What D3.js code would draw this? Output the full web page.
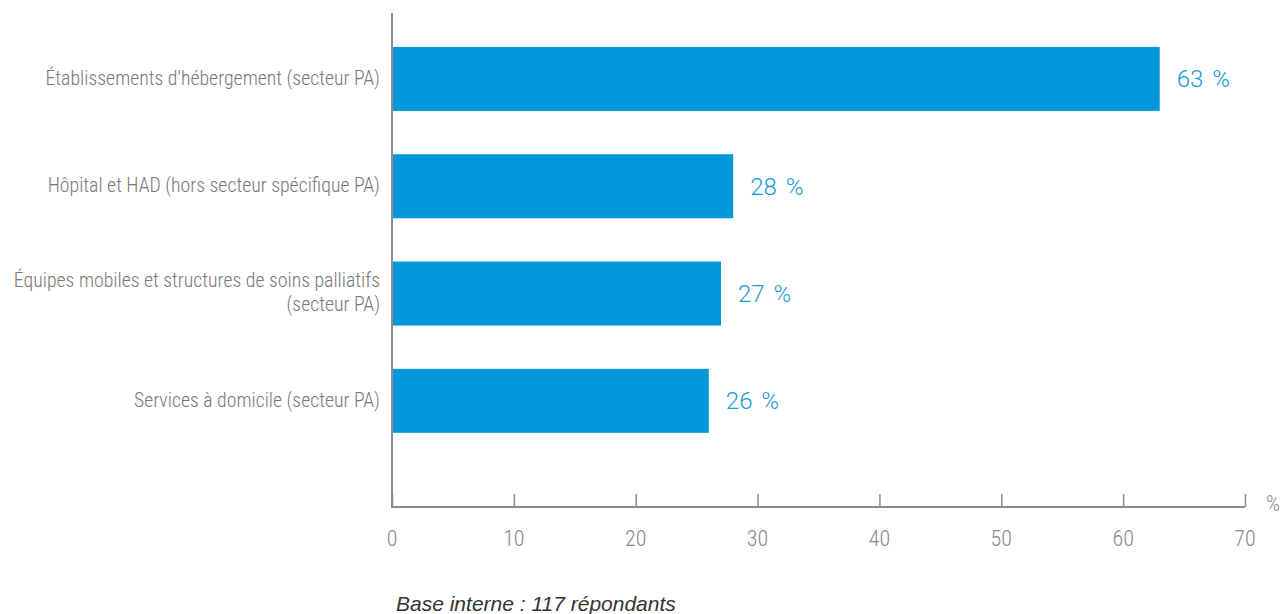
<!DOCTYPE html>
<html>
<head>
<meta charset="utf-8">
<script src="https://cdn.jsdelivr.net/npm/d3@7"></script>
<style>
  body { margin: 0; background: #fff; }
  svg text { font-family: "Roboto Condensed", "Liberation Sans Narrow", "DejaVu Sans Condensed", Roboto, sans-serif; font-weight: 300; }
</style>
</head>
<body>
<div id="chart"></div>
<script>
// data
const categories = [
  ["Établissements d'hébergement (secteur PA)"],
  ["Hôpital et HAD (hors secteur spécifique PA)"],
  ["Équipes mobiles et structures de soins palliatifs", "(secteur PA)"],
  ["Services à domicile (secteur PA)"]
];
const values = [63, 28, 27, 26];
const xTicks = [0, 10, 20, 30, 40, 50, 60, 70];
const note = 'Base interne : 117 répondants';

const width = 1283, height = 614;
const marginLeft = 392, marginRight = 1245, axisY = 507, axisTop = 13;

const svg = d3.select('#chart').append('svg')
  .attr('width', width)
  .attr('height', height)
  .attr('viewBox', [0, 0, width, height]);

const x = d3.scaleLinear().domain([0, 70]).range([marginLeft, marginRight]);
const y = d3.scaleBand()
  .domain(d3.range(values.length))
  .range([25.5, 454.3])
  .paddingInner(0.4035)
  .paddingOuter(0.2);

// bars
svg.append('g').selectAll('rect')
  .data(values)
  .join('rect')
  .attr('x', x(0))
  .attr('y', (d, i) => y(i))
  .attr('width', d => x(d) - x(0))
  .attr('height', y.bandwidth())
  .attr('fill', '#0098da');

// value labels
svg.append('g').selectAll('text')
  .data(values)
  .join('text')
  .attr('x', d => x(d) + 17)
  .attr('y', (d, i) => y(i) + y.bandwidth() / 2)
  .attr('dy', '0.35em')
  .attr('fill', '#1a9ad6')
  .attr('font-size', 24)
  .attr('word-spacing', 3)
  .style('font-family', 'Roboto, "Liberation Sans", sans-serif')
  .style('font-weight', 300)
  .text(d => d + ' %');

// category labels
const cat = svg.append('g').selectAll('text')
  .data(categories)
  .join('text')
  .attr('text-anchor', 'end')
  .attr('fill', '#777')
  .attr('font-size', 19.8)
  .attr('transform', (d, i) => `translate(380,${y(i) + y.bandwidth() / 2 - 1})`);

cat.selectAll('tspan')
  .data(d => d.map((t, k) => ({ t, k, n: d.length })))
  .join('tspan')
  .attr('x', 0)
  .attr('y', d => (d.k - (d.n - 1) / 2) * 24)
  .attr('dy', '0.35em')
  .text(d => d.t);

// x axis
const xAxis = svg.append('g')
  .attr('transform', `translate(0,${axisY})`)
  .call(d3.axisTop(x).tickValues(xTicks).tickSize(13).tickFormat(''));
xAxis.select('.domain').attr('stroke', '#8c8c8c').attr('stroke-width', 2).attr('d', `M${marginLeft},0H${marginRight}`);
xAxis.selectAll('.tick line').attr('stroke', '#8c8c8c').attr('stroke-width', 1.5);

svg.append('g').selectAll('text')
  .data(xTicks)
  .join('text')
  .attr('x', d => x(d))
  .attr('y', axisY + 31)
  .attr('dy', '0.35em')
  .attr('text-anchor', 'middle')
  .attr('fill', '#888')
  .attr('font-size', 22)
  .text(d => d);

svg.append('text')
  .attr('x', 1266)
  .attr('y', axisY - 4)
  .attr('dy', '0.35em')
  .attr('fill', '#888')
  .attr('font-size', 22)
  .text('%');

// y axis line
svg.append('line')
  .attr('x1', marginLeft).attr('x2', marginLeft)
  .attr('y1', axisTop).attr('y2', axisY + 1)
  .attr('stroke', '#8c8c8c')
  .attr('stroke-width', 2);

// footnote
svg.append('text')
  .attr('x', 396)
  .attr('y', 611)
  .attr('fill', '#333')
  .attr('font-size', 21)
  .style('font-style', 'italic')
  .style('font-weight', 400)
  .style('font-family', 'Helvetica, Arial, "Liberation Sans", sans-serif')
  .text(note);
</script>
</body>
</html>
